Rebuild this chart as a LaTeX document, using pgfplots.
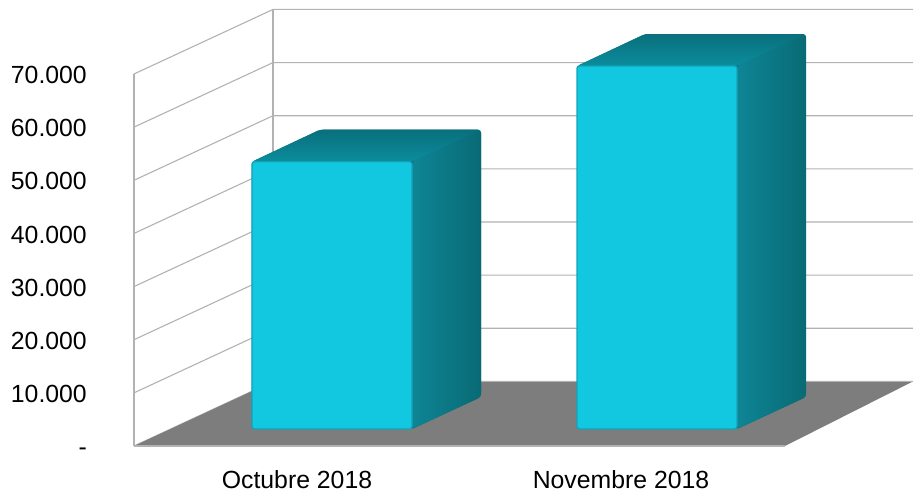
\documentclass[border=0pt]{standalone}
\usepackage{fontspec}
\setmainfont{Liberation Sans}
\usepackage{pgfplots}
\pgfplotsset{compat=1.18}

\definecolor{faceFront}{HTML}{12C8E0}
\definecolor{faceRim}{HTML}{12A4B8}
\definecolor{topBack}{HTML}{0A6F7C}
\definecolor{topFront}{HTML}{0B8D9D}
\definecolor{sideNear}{HTML}{0E8595}
\definecolor{sideFar}{HTML}{096A75}
\definecolor{floorGrey}{HTML}{7D7D7D}
\definecolor{wallLine}{HTML}{B2B2B2}

% Oblique cuboid: #1 = left edge of the front face, #2 = value.
% The bar stands 3199 units up the floor and reaches back 68.5 across, 6022 up.
\newcommand{\cuboid}[2]{%
  \edef\xa{#1}%
  \edef\xb{\the\numexpr#1+160\relax}%
  \edef\xc{\the\numexpr#1+229\relax}%
  \edef\xd{\the\numexpr#1+68\relax}%
  \edef\yb{3199}%
  \edef\yc{9221}%
  \edef\yt{\the\numexpr#2+3199\relax}%
  \edef\yu{\the\numexpr#2+9221\relax}%
  % silhouette under the two shaded faces, for the rounded outer corners
  \addplot[draw=none, fill=sideFar, rounded corners=3pt]
    coordinates {(\xa,\yt) (\xd,\yu) (\xc,\yu) (\xc,\yc) (\xb,\yb) (\xa,\yb)} -- cycle;
  \addplot[draw=none, left color=sideNear, right color=sideFar, rounded corners=3pt]
    coordinates {(\xb,\yb) (\xc,\yc) (\xc,\yu) (\xb,\yt)} -- cycle;
  \addplot[draw=none, bottom color=topFront, top color=topBack, rounded corners=3pt]
    coordinates {(\xa,\yt) (\xd,\yu) (\xc,\yu) (\xb,\yt)} -- cycle;
  \addplot[draw=faceRim, line width=1.4pt, fill=faceFront, rounded corners=2.5pt]
    coordinates {(\xa,\yb) (\xb,\yb) (\xb,\yt) (\xa,\yt)} -- cycle;
}

% One level of the wall grid: side wall, then back wall.
\newcommand{\wallgrid}[2]{%
  \addplot[wallLine, line width=1.1pt] coordinates {(134,#1) (273,#2) (913,#2)};
}

\begin{document}
\begin{tikzpicture}
\path[use as bounding box] (-134pt,-46pt) rectangle (779pt,446pt);
\begin{axis}[
  scale only axis,
  width=779pt, height=446pt,
  xmin=134, xmax=913,
  ymin=0, ymax=83929,
  axis line style={draw=none},
  major tick length=0pt,
  clip=false,
  scaled y ticks=false,
  xtick={297,621},
  xticklabels={Octubre 2018,Novembre 2018},
  ytick={0,10000,20000,30000,40000,50000,60000,70000},
  yticklabels={-,10.000,20.000,30.000,40.000,50.000,60.000,70.000},
  tick label style={font=\fontsize{24.8}{30}\selectfont, inner sep=0pt, text=black},
  yticklabel style={anchor=east, xshift=-47pt, yshift=-0.7pt, text height=17.8pt, text depth=0pt},
  xticklabel style={anchor=north, yshift=-24pt},
]
% walls
\wallgrid{0}{12150}
\wallgrid{10000}{22150}
\wallgrid{20000}{32150}
\wallgrid{30000}{42150}
\wallgrid{40000}{52150}
\wallgrid{50000}{62150}
\wallgrid{60000}{72150}
\wallgrid{70000}{82150}
\addplot[wallLine, line width=1.1pt] coordinates {(134,0) (134,70000)};
\addplot[wallLine, line width=1.1pt] coordinates {(273,12150) (273,82150)};
% floor
\addplot[fill=floorGrey, draw=none] coordinates {(134,0) (785,0) (913,12150) (273,12150)} -- cycle;
\addplot[wallLine, line width=1.1pt] coordinates {(134,0) (785,0)};
\addplot[wallLine, line width=1.1pt] coordinates {(273,12150) (913,12150)};
% bars
\cuboid{252}{50300}
\cuboid{577}{68300}
\end{axis}
\end{tikzpicture}
\end{document}
